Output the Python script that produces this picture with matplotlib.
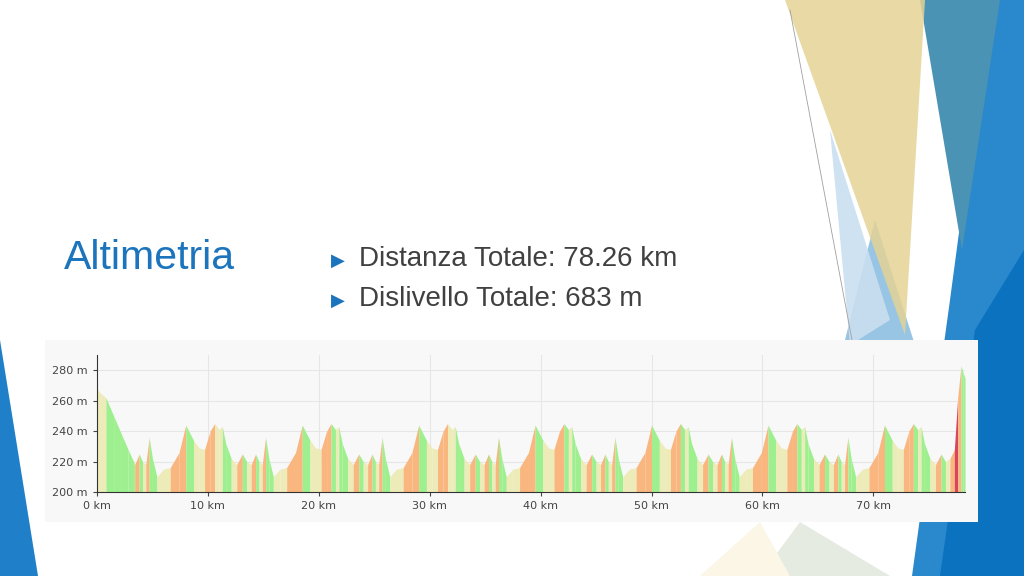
import matplotlib

matplotlib.use("Agg")
import matplotlib.pyplot as plt
import numpy as np
from matplotlib.patches import Polygon, Rectangle

W, H = 1024, 576

# elevation profile: first descent, then one lap repeated 7 times
start_km = [0.0, 0.3, 0.8, 1.5, 2.2, 2.8, 3.3]
start_m = [268, 265, 262, 250, 238, 228, 220]
lap_km = [0.0, 0.4, 0.7, 1.0, 1.3, 1.6, 2.0, 2.6, 3.2, 4.0, 4.6, 5.3, 5.8, 6.3, 6.8,
          7.2, 7.6, 7.9, 8.2, 8.7, 9.2, 9.7, 10.1]
lap_m = [218, 225, 220, 218, 236, 222, 210, 215, 216, 226, 244, 234, 229, 228, 240,
         245, 241, 243, 232, 222, 218, 225, 220]
lap_len = 10.5
lap_count = 7
final_km = [76.9, 77.3, 77.6, 77.9, 78.1, 78.26]
final_m = [222, 228, 262, 283, 278, 275]

km = list(start_km)
elev = list(start_m)
for i in range(lap_count):
    off = 3.4 + i * lap_len
    for k, m in zip(lap_km, lap_m):
        if off + k < 76.8:
            km.append(off + k)
            elev.append(m)
km += final_km
elev += final_m
km = np.array(km)
elev = np.array(elev, dtype=float)

fig = plt.figure(figsize=(W / 100, H / 100), dpi=100)
bg = fig.add_axes([0, 0, 1, 1])
bg.set_xlim(0, W)
bg.set_ylim(H, 0)
bg.axis("off")


def poly(pts, color, alpha=1.0, z=1):
    bg.add_patch(Polygon(pts, closed=True, facecolor=color, edgecolor="none", alpha=alpha, zorder=z))


poly([(0, 340), (38, 576), (0, 576)], "#1F7FC8")
poly([(845, 340), (875, 220), (915, 345)], "#8DBFE2", 0.9)
poly([(830, 130), (890, 320), (850, 345)], "#C9DFF0", 0.9)
poly([(990, 0), (1024, 0), (1024, 576), (912, 576), (950, 300)], "#2A88CC", z=2)
poly([(1024, 250), (1024, 576), (940, 576), (975, 330)], "#0B72C0", z=3)
poly([(920, 0), (1000, 0), (962, 250)], "#4A93B5", z=2)
poly([(785, 0), (925, 0), (905, 335)], "#E4D395", 0.85, z=4)
poly([(760, 576), (800, 522), (890, 576)], "#E6EBE2", z=1)
poly([(700, 576), (760, 522), (790, 576)], "#FBF6E6", z=1)
bg.plot([790, 852], [10, 340], color="#A0A0A0", linewidth=0.6, zorder=5)

bg.add_patch(Rectangle((45, 340), 933, 182, facecolor="#F8F8F8", edgecolor="none", zorder=6))

bg.text(64, 258, "Altimetria", fontsize=29.5, color="#1C75BC", va="center", family="Liberation Sans", zorder=7)
bg.text(331, 261, "▶", fontsize=13, color="#1C75BC", va="center", zorder=7)
bg.text(359, 259, "Distanza Totale: 78.26 km", fontsize=20, color="#404040", va="center", family="Liberation Sans", zorder=7)
bg.text(331, 301, "▶", fontsize=13, color="#1C75BC", va="center", zorder=7)
bg.text(359, 299, "Dislivello Totale: 683 m", fontsize=20, color="#404040", va="center", family="Liberation Sans", zorder=7)

ax = fig.add_axes([97 / W, 1 - 492 / H, (965 - 97) / W, (492 - 355) / H], zorder=8)
ax.set_facecolor("#F8F8F8")
ax.set_xlim(0, 78.26)
ax.set_ylim(200, 290)


def slope_color(g):
    if g > 9:
        return "#D9455A"
    if g > 1.0:
        return "#F9B67E"
    if g < -1.0:
        return "#9EF08E"
    return "#EDEBB8"


for i in range(len(km) - 1):
    x0, x1 = km[i], km[i + 1]
    g = (elev[i + 1] - elev[i]) / ((x1 - x0) * 1000) * 100
    ax.fill_between([x0, x1], 200, [elev[i], elev[i + 1]], color=slope_color(g), linewidth=0)

ax.set_xticks(range(0, 80, 10))
ax.set_xticklabels([f"{v} km" for v in range(0, 80, 10)])
ax.set_yticks(range(200, 290, 20))
ax.set_yticklabels([f"{v} m" for v in range(200, 290, 20)])
ax.grid(color="#E6E6E6", linewidth=0.8)
ax.set_axisbelow(True)
for s in ("top", "right"):
    ax.spines[s].set_visible(False)
for s in ("left", "bottom"):
    ax.spines[s].set_color("#333333")
ax.tick_params(labelsize=8, colors="#444444", length=3)

fig.savefig("out.png", dpi=100)
